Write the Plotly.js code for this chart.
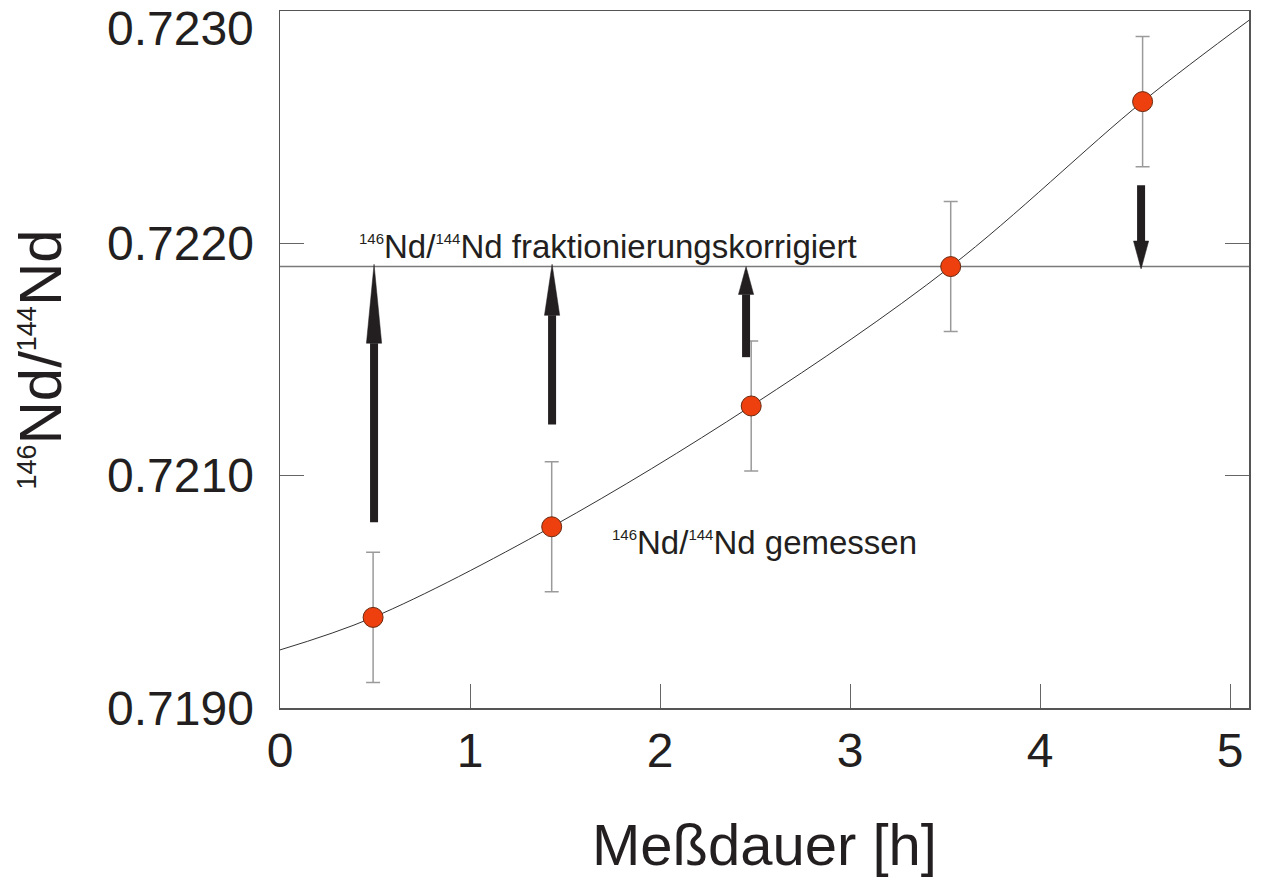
<!DOCTYPE html>
<html>
<head>
<meta charset="utf-8">
<script src="https://cdn.plot.ly/plotly-3.0.1.min.js"></script>
<style>html,body{margin:0;padding:0;background:#fff;}#chart{width:1266px;height:891px;}</style>
</head>
<body>
<div id="chart"></div>
<script>
// ---- data ----
var measTime   = [0.49, 1.43, 2.48, 3.53, 4.54];                 // Meßdauer [h]
var measRatio  = [0.72039, 0.72078, 0.72130, 0.72190, 0.72261];  // 146Nd/144Nd gemessen
var measErr    = [0.00028, 0.00028, 0.00028, 0.00028, 0.00028];

var fitTime    = [0, 0.49, 1.43, 2.48, 3.53, 4.54, 5.1];
var fitRatio   = [0.72025, 0.72039, 0.72078, 0.72130, 0.72190, 0.72261, 0.72296];

var corrRatio  = 0.72190;                                        // fraktionierungskorrigiert

var arrowTime  = [0.495, 1.432, 2.453, 4.532];
var arrowTail  = [0.72080, 0.72122, 0.72151, 0.72225];
var arrowBase  = [0.72157, 0.72169, 0.72178, 0.72201];
var arrowTip   = [0.72191, 0.72191, 0.72190, 0.72189];

var xTickVals  = [0, 1, 2, 3, 4, 5];
var xTickText  = ['0', '1', '2', '3', '4', '5'];
var yTickVals  = [0.720, 0.721, 0.722, 0.723];
var yTickText  = ['0.7190', '0.7210', '0.7220', '0.7230'];

var labelCorr  = '<sup><span style="font-size:15px">146</span></sup>Nd/<sup><span style="font-size:15px">144</span></sup>Nd fraktionierungskorrigiert';
var labelMeas  = '<sup><span style="font-size:15px">146</span></sup>Nd/<sup><span style="font-size:15px">144</span></sup>Nd gemessen';
var labelPos   = {corrX: 0.405, corrY: corrRatio, measX: 1.737, measY: 0.72067};

var xTitle = 'Meßdauer [h]';
var yTitle = '<sup><span style="font-size:27px">146</span></sup>Nd/<sup><span style="font-size:27px">144</span></sup>Nd';

var xRange = [0, 5.1];
var yRange = [0.7200, 0.7230];

// ---- build ----
var FONT = 'Liberation Sans, Arial, Helvetica, sans-serif';
var INK = '#231f20';

var traces = [
  { x: fitTime, y: fitRatio, type: 'scatter', mode: 'lines',
    line: {color: '#333333', width: 1, shape: 'spline', smoothing: 1}, hoverinfo: 'skip', showlegend: false },
  { x: xRange, y: [corrRatio, corrRatio], type: 'scatter', mode: 'lines',
    line: {color: '#7a7a7a', width: 1.5}, hoverinfo: 'skip', showlegend: false },
  { x: measTime, y: measRatio, type: 'scatter', mode: 'markers',
    error_y: {type: 'data', array: measErr, visible: true, color: '#9a9a9a', thickness: 1.5, width: 7},
    marker: {size: 20, color: '#ee3f0e', line: {color: '#6b2a10', width: 1}}, showlegend: false }
];

var hw = 0.04; // half head width in x units
var shapes = [];
for (var i = 0; i < arrowTime.length; i++) {
  shapes.push({ type: 'line', xref: 'x', yref: 'y', layer: 'above',
    x0: arrowTime[i], x1: arrowTime[i], y0: arrowTail[i], y1: arrowBase[i],
    line: {color: INK, width: 8} });
  shapes.push({ type: 'path', xref: 'x', yref: 'y', layer: 'above',
    path: 'M ' + (arrowTime[i] - hw) + ',' + arrowBase[i] + ' L ' + (arrowTime[i] + hw) + ',' + arrowBase[i] +
          ' L ' + arrowTime[i] + ',' + arrowTip[i] + ' Z',
    fillcolor: INK, line: {color: INK, width: 0.5} });
}

var annotations = [
  { x: labelPos.corrX, y: labelPos.corrY, xref: 'x', yref: 'y', xanchor: 'left', yanchor: 'bottom',
    yshift: 0, text: labelCorr, showarrow: false, font: {family: FONT, size: 33, color: INK} },
  { x: labelPos.measX, y: labelPos.measY, xref: 'x', yref: 'y', xanchor: 'left', yanchor: 'bottom',
    yshift: -11, text: labelMeas, showarrow: false, font: {family: FONT, size: 33, color: INK} },
  { x: 0, y: yTickVals[3], xref: 'paper', yref: 'y', xanchor: 'right', yanchor: 'middle',
    xshift: -24, yshift: -17, text: yTickText[3], showarrow: false, font: {family: FONT, size: 48, color: INK} }
];

var layout = {
  width: 1266, height: 891,
  margin: {l: 280, r: 17, t: 11, b: 183},
  paper_bgcolor: '#ffffff', plot_bgcolor: '#ffffff',
  font: {family: FONT, color: INK},
  showlegend: false,
  xaxis: {
    range: xRange, tickvals: xTickVals, ticktext: xTickText,
    ticks: 'inside', ticklen: 24, tickwidth: 1, tickcolor: '#666666',
    showline: true, linecolor: '#555555', linewidth: 1.5, mirror: true,
    showgrid: false, zeroline: false,
    tickfont: {family: FONT, size: 48, color: INK},
    title: {text: xTitle, font: {family: FONT, size: 58, color: INK}, standoff: 48}
  },
  yaxis: {
    range: yRange, tickvals: yTickVals.slice(0, 3), ticktext: yTickText.slice(0, 3),
    ticks: 'inside', ticklen: 24, tickwidth: 1, tickcolor: '#666666',
    showline: true, linecolor: '#555555', linewidth: 1.5, mirror: 'ticks',
    showgrid: false, zeroline: false,
    tickfont: {family: FONT, size: 48, color: INK},
    ticklabelstandoff: 15,
    title: {text: yTitle, font: {family: FONT, size: 60, color: INK}, standoff: 26}
  },
  shapes: shapes,
  annotations: annotations
};

Plotly.newPlot('chart', traces, layout, {staticPlot: true, displayModeBar: false});
</script>
</body>
</html>
